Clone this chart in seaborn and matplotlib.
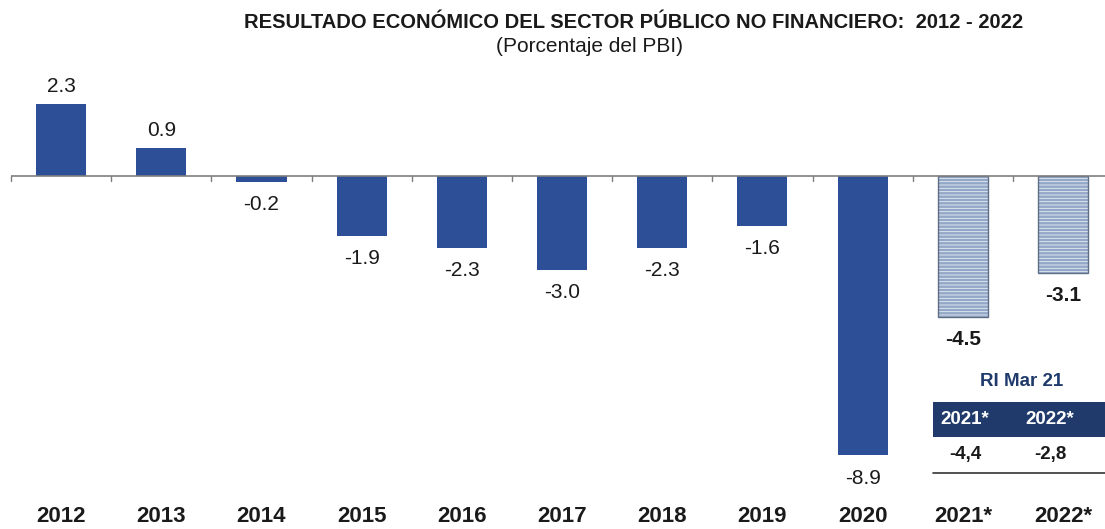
import matplotlib
matplotlib.use("Agg")
import matplotlib.pyplot as plt
import matplotlib.transforms as mtransforms
import seaborn as sns
import pandas as pd

years = ["2012", "2013", "2014", "2015", "2016", "2017", "2018", "2019", "2020", "2021*", "2022*"]
values = [2.3, 0.9, -0.2, -1.9, -2.3, -3.0, -2.3, -1.6, -8.9, -4.5, -3.1]
projected = [False] * 9 + [True, True]
table_years = ["2021*", "2022*"]
table_values = ["-4,4", "-2,8"]

sns.set_theme(style="white")
plt.rcParams['font.family'] = ['Liberation Sans', 'DejaVu Sans']
plt.rcParams['hatch.linewidth'] = 0.6

BLUE = "#2C4F98"
LIGHT = "#93A8C7"
NAVY = "#1F3A6B"

df = pd.DataFrame({"year": years, "value": values})
fig = plt.figure(figsize=(11.05, 5.29), dpi=100)
W, H = 1105, 529
ax = fig.add_axes([11 / W, (529 - 500) / H, (1105 - 11) / W, (500 - 78) / H])

palette = {y: (LIGHT if p else BLUE) for y, p in zip(years, projected)}
sns.barplot(data=df, x="year", y="value", hue="year", palette=palette, order=years,
            width=0.5, legend=False, ax=ax, saturation=1)

for patch, p in zip(ax.patches, projected):
    patch.set_linewidth(0)
    if p:
        patch.set_hatch("-----")
        patch.set_edgecolor("#E8EEF6")
        patch.set_linewidth(0)
        x0, y0 = patch.get_x(), patch.get_y()
        w, h = patch.get_width(), patch.get_height()
        ax.add_patch(plt.Rectangle((x0, y0), w, h, fill=False, edgecolor="#5F6E85",
                                   linewidth=1.0, zorder=3))

px_per_unit = 31.4
ax.set_xlim(-0.5, (1105 - 61) / 100.2)
ax.set_ylim(-(500 - 176) / px_per_unit, (176 - 78) / px_per_unit)

ax.axhline(0, color="#7F7F7F", linewidth=1.2, zorder=4)
for i in range(len(years)):
    ax.plot([i - 0.5, i - 0.5], [0, -0.15], color="#7F7F7F", linewidth=1.0, zorder=4, clip_on=False)

for i, (v, p) in enumerate(zip(values, projected)):
    off = 0.55 if v >= 0 else -0.72
    ax.text(i, v + off, f"{v:.1f}", ha="center", va="center", fontsize=15,
            fontweight="bold" if p else "normal", color="#1A1A1A")

ax.set_xlabel("")
ax.set_ylabel("")
ax.set_yticks([])
ax.set_xticks(range(len(years)))
ax.set_xticklabels([])
ax.tick_params(axis="x", length=0)
year_tr = mtransforms.blended_transform_factory(ax.transData, fig.transFigure)
for i, y in enumerate(years):
    ax.text(i, 1 - 517 / H, y, transform=year_tr, ha="center", va="center",
            fontsize=16, fontweight="bold", color="#1A1A1A", clip_on=False)

for s in ax.spines.values():
    s.set_visible(False)

fig.text(634 / W, 1 - 22 / H, "RESULTADO ECONÓMICO DEL SECTOR PÚBLICO NO FINANCIERO:  2012 - 2022",
         ha="center", va="center", fontsize=14.5, fontweight="bold", color="#1A1A1A")
fig.text(590 / W, 1 - 47 / H, "(Porcentaje del PBI)", ha="center", va="center", fontsize=15,
         color="#1A1A1A")

# inset table
fig.text(1022 / W, 1 - 382 / H, "RI Mar 21", ha="center", va="center", fontsize=13.5,
         fontweight="bold", color=NAVY)
fig.patches.append(plt.Rectangle((933 / W, 1 - 437 / H), (1105 - 933) / W, 35 / H,
                                 transform=fig.transFigure, facecolor=NAVY, edgecolor="none"))
tx = [965, 1050]
for x, ty, tv in zip(tx, table_years, table_values):
    fig.text(x / W, 1 - 420 / H, ty, ha="center", va="center", fontsize=13.5,
             fontweight="bold", color="white")
    fig.text(x / W, 1 - 454 / H, tv, ha="center", va="center", fontsize=13.5,
             fontweight="bold", color="#1A1A1A")
fig.add_artist(plt.Line2D([933 / W, 1105 / W], [1 - 473 / H, 1 - 473 / H],
                          transform=fig.transFigure, color="#333333", linewidth=1.2))

fig.savefig("out.png", dpi=100)
